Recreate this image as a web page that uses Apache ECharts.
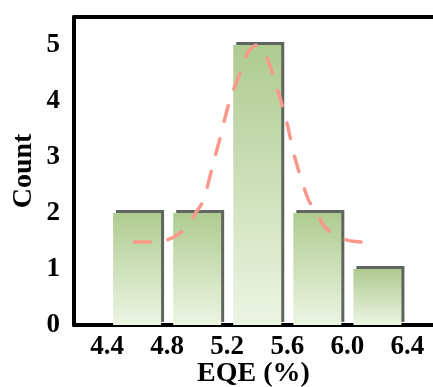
<!DOCTYPE html>
<html>
<head>
<meta charset="utf-8">
<script src="https://cdn.jsdelivr.net/npm/echarts@6/dist/echarts.min.js"></script>
<style>
	html, body { margin: 0; padding: 0; background: #fff; }
</style>
</head>
<body>
<div id="myChart" style="width: 433px; height: 387px;"></div>
<script>
	// histogram bins (centres) and counts
	var binCenters = [4.6, 5.0, 5.4, 5.8, 6.2];
	var counts = [2, 2, 5, 2, 1];
	// dashed fit curve
	var fitX = [4.58, 4.70, 4.80, 4.87, 4.93, 4.99, 5.04, 5.10, 5.16, 5.22, 5.30, 5.34, 5.40,
		5.47, 5.54, 5.60, 5.65, 5.74, 5.80, 5.84, 5.94, 6.05, 6.17];
	var fitY = [1.48, 1.48, 1.52, 1.61, 1.76, 2.00, 2.22, 2.81, 3.42, 4.04, 4.59, 4.88, 5.00,
		4.73, 4.16, 3.58, 2.99, 2.24, 2.00, 1.78, 1.57, 1.49, 1.48];
	var xTicks = [4.4, 4.8, 5.2, 5.6, 6.0, 6.4];
	var yTicks = [0, 1, 2, 3, 4, 5];

	var barData = [];
	for (let i = 0; i < binCenters.length; i++) {
		barData.push([binCenters[i], counts[i]]);
	}
	var lineData = [];
	for (let i = 0; i < fitX.length; i++) {
		lineData.push([fitX[i], fitY[i]]);
	}

	var font = 'Liberation Serif';
	var option = {
		animation: false,
		grid: { left: 74, right: 0, top: 17, bottom: 62, outerBoundsMode: 'none' },
		xAxis: [{
			type: 'value',
			min: 4.18,
			max: 6.57,
			name: 'EQE (%)',
			nameLocation: 'middle',
			nameGap: 35,
			nameMoveOverlap: false,
			nameTextStyle: { fontFamily: font, fontWeight: 'bold', fontSize: 28, color: '#000' },
			axisLine: { show: true, onZero: false, lineStyle: { color: '#000', width: 4 } },
			axisTick: { show: false },
			splitLine: { show: false },
			axisLabel: {
				customValues: xTicks,
				margin: 9,
				fontFamily: font, fontWeight: 'bold', fontSize: 27, color: '#000',
				formatter: function (v) { return v.toFixed(1); }
			}
		}, {
			type: 'value',
			position: 'top',
			min: 4.18,
			max: 6.57,
			axisLine: { show: true, onZero: false, lineStyle: { color: '#000', width: 4 } },
			axisTick: { show: false },
			axisLabel: { show: false },
			splitLine: { show: false }
		}],
		yAxis: {
			type: 'value',
			min: 0,
			max: 5.5,
			interval: 1,
			name: 'Count',
			nameLocation: 'middle',
			nameGap: 36,
			nameMoveOverlap: false,
			nameTextStyle: { fontFamily: font, fontWeight: 'bold', fontSize: 28, color: '#000' },
			axisLine: { show: true, lineStyle: { color: '#000', width: 4 } },
			axisTick: { show: false },
			splitLine: { show: false },
			axisLabel: {
				customValues: yTicks,
				margin: 14,
				fontFamily: font, fontWeight: 'bold', fontSize: 27, color: '#000'
			}
		},
		series: [{
			type: 'bar',
			data: barData,
			barWidth: 48,
			itemStyle: {
				color: new echarts.graphic.LinearGradient(0, 0, 0, 1, [
					{ offset: 0, color: '#aecb90' },
					{ offset: 1, color: '#edf5e3' }
				]),
				shadowColor: '#60655d',
				shadowOffsetX: 3,
				shadowOffsetY: -3,
				shadowBlur: 0
			}
		}, {
			type: 'line',
			data: lineData,
			smooth: 0.3,
			showSymbol: false,
			lineStyle: { color: '#f8998b', width: 3.5, type: [16, 18], cap: 'round' },
			z: 5
		}]
	};
	let myChart = echarts.init(document.getElementById('myChart'));
	myChart.setOption(option);
</script>
</body>
</html>
